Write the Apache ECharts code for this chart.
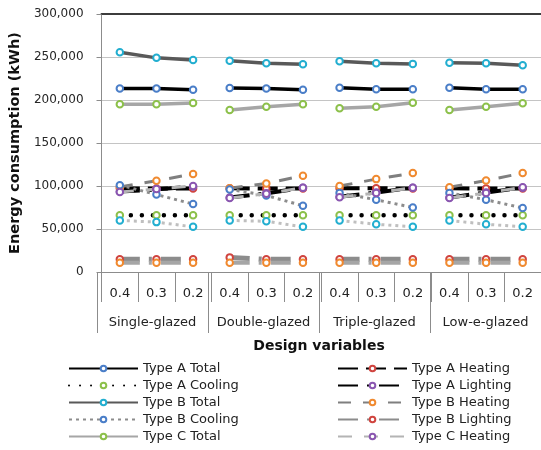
<!DOCTYPE html>
<html><head><meta charset="utf-8">
<script src="https://cdn.jsdelivr.net/npm/echarts@6/dist/echarts.min.js"></script>
<style>html,body{margin:0;padding:0;background:#fff}#c{width:541px;height:450px}</style>
</head><body><div id="c"></div>
<script>
// ---- data ----
const subLabels = ['0.4','0.3','0.2','0.4','0.3','0.2','0.4','0.3','0.2','0.4','0.3','0.2'];
const groupLabels = ['Single-glazed','Double-glazed','Triple-glazed','Low-e-glazed'];
const typeATotal    = [213500,213500,212000,214000,213500,212000,214300,212500,212500,214300,212500,212500];
const typeAHeating  = [97500,97000,97000,97500,97000,97000,97500,97500,97000,97500,97000,97000];
const typeACooling  = [66000,66000,66000,66000,66000,66000,66000,66000,66000,66000,66000,66000];
const typeALighting = [93500,96000,99500,86500,91500,98000,87500,92500,98000,86500,92500,98000];
const typeBTotal    = [255500,249000,246500,245700,242600,241500,245000,242600,242000,243400,242600,240500];
const typeBHeating  = [99000,106000,114000,97500,103000,112000,100000,108000,115000,98500,106500,115000];
const typeBCooling  = [101000,90000,79000,96000,89000,77000,92000,84000,75000,92000,84000,74500];
const typeBLighting = [14700,14700,14700,17000,14700,14700,14700,14700,14700,14700,14700,14700];
const typeCTotal    = [195000,195000,196500,188400,192200,195000,190300,192200,196900,188400,192200,196100];
const typeCHeating  = [93000,96500,100000,86000,91000,98000,87000,92000,98000,86000,92000,98500];
const typeCCooling  = [60000,58000,52500,60000,59000,52500,60000,55500,52500,60000,55500,52500];
const typeCLighting = [10800,10800,10800,10800,10800,10800,10800,10800,10800,10800,10800,10800];

// ---- styles ----
const FONT = 'DejaVu Sans';
const C_BLUE='#4A7EC8', C_RED='#D0443F', C_GREEN='#8CC04A', C_PURPLE='#8A56B0', C_CYAN='#22AED0', C_ORANGE='#F08A30';
const defs = [
  {name:'Type A Total',    data:typeATotal,    color:'#000000', width:3.5, type:'solid',        cap:'butt',  marker:C_BLUE},
  {name:'Type A Heating',  data:typeAHeating,  color:'#000000', width:4,   type:[20,8],         cap:'butt',  marker:C_RED},
  {name:'Type A Cooling',  data:typeACooling,  color:'#000000', width:4.5, type:[0.01,11],      cap:'round', marker:C_GREEN},
  {name:'Type A Lighting', data:typeALighting, color:'#000000', width:4,   type:[20,9,3,9],     cap:'butt',  marker:C_PURPLE},
  {name:'Type B Total',    data:typeBTotal,    color:'#595959', width:3.5, type:'solid',        cap:'butt',  marker:C_CYAN},
  {name:'Type B Heating',  data:typeBHeating,  color:'#7f7f7f', width:3,   type:[13,12],        cap:'butt',  marker:C_ORANGE},
  {name:'Type B Cooling',  data:typeBCooling,  color:'#8c8c8c', width:3,   type:[3,4],          cap:'butt',  marker:C_BLUE},
  {name:'Type B Lighting', data:typeBLighting, color:'#8c8c8c', width:5,   type:[20,9,3,9],     cap:'butt',  marker:C_RED},
  {name:'Type C Total',    data:typeCTotal,    color:'#a6a6a6', width:3.5, type:'solid',        cap:'butt',  marker:C_GREEN},
  {name:'Type C Heating',  data:typeCHeating,  color:'#b4b4b4', width:3,   type:[14,12],        cap:'butt',  marker:C_PURPLE},
  {name:'Type C Cooling',  data:typeCCooling,  color:'#bfbfbf', width:3,   type:[3,4],          cap:'butt',  marker:C_CYAN},
  {name:'Type C Lighting', data:typeCLighting, color:'#a6a6a6', width:4,   type:[20,9,3,9],     cap:'butt',  marker:C_ORANGE}
];

const series = [];
defs.forEach(d => {
  for (let g = 0; g < groupLabels.length; g++) {
    series.push({
      name: d.name, type: 'line', xAxisIndex: 0, yAxisIndex: 0,
      data: d.data.map((v, i) => Math.floor(i / 3) === g ? v : null),
      connectNulls: false,
      symbol: 'emptyCircle', symbolSize: 6.5,
      lineStyle: {color: d.color, width: d.width, type: d.type, cap: d.cap},
      itemStyle: {color: d.marker, borderColor: d.marker, borderWidth: 1.5},
      emphasis: {disabled: true},
      animation: false
    });
  }
});

const legendCommon = {
  orient: 'vertical', top: 362, itemWidth: 69, itemHeight: 7, itemGap: 4, padding: 0,
  textStyle: {fontFamily: FONT, fontSize: 13, color: '#222'}
};

const grid = {left: 97, top: 14, width: 448, height: 258};
const chart = echarts.init(document.getElementById('c'), null, {renderer: 'canvas'});
chart.setOption({
  animation: false,
  backgroundColor: '#fff',
  textStyle: {fontFamily: FONT},
  grid: [Object.assign({}, grid), Object.assign({}, grid)],
  legend: [
    Object.assign({left: 68, data: ['Type A Total','Type A Cooling','Type B Total','Type B Cooling','Type C Total']}, legendCommon),
    Object.assign({left: 337, data: ['Type A Heating','Type A Lighting','Type B Heating','Type B Lighting','Type C Heating']}, legendCommon)
  ],
  xAxis: [
    {type: 'category', gridIndex: 0, position: 'bottom', data: subLabels, boundaryGap: true,
     axisLine: {show: true, lineStyle: {color: '#8c8c8c', width: 1}},
     axisTick: {show: true, interval: 0, length: 30, lineStyle: {color: '#8c8c8c'}},
     axisLabel: {interval: 0, margin: 15, fontFamily: FONT, fontSize: 13, color: '#222'},
     splitLine: {show: false}},
    {type: 'category', gridIndex: 0, position: 'top', data: subLabels,
     axisLine: {show: true, lineStyle: {color: '#3c3c3c', width: 2}},
     axisTick: {show: false}, axisLabel: {show: false}, splitLine: {show: false}},
    {type: 'category', gridIndex: 1, position: 'bottom', data: groupLabels, boundaryGap: true,
     axisLine: {show: false},
     axisTick: {show: true, interval: 0, length: 61, lineStyle: {color: '#8c8c8c'}},
     axisLabel: {interval: 0, margin: 44, fontFamily: FONT, fontSize: 13, color: '#222'},
     name: 'Design variables', nameLocation: 'middle', nameGap: 67,
     nameTextStyle: {fontFamily: FONT, fontSize: 14, fontWeight: 'bold', color: '#111'},
     splitLine: {show: false}}
  ],
  yAxis: [
    {type: 'value', gridIndex: 0, min: 0, max: 300000, interval: 50000,
     axisLine: {show: true, lineStyle: {color: '#8c8c8c'}},
     axisTick: {show: true, length: 5, lineStyle: {color: '#8c8c8c'}},
     axisLabel: {margin: 18, fontFamily: FONT, fontSize: 12, color: '#262626',
                 formatter: v => v.toLocaleString('en-US')},
     splitLine: {show: true, lineStyle: {color: '#c4c4c4', width: 1}},
     name: 'Energy consumption (kWh)', nameLocation: 'middle', nameRotate: 90, nameGap: 71,
     nameTextStyle: {fontFamily: FONT, fontSize: 14.5, fontWeight: 'bold', color: '#111'}},
    {type: 'value', gridIndex: 1, show: false, min: 0, max: 300000}
  ],
  series: series
});
</script></body></html>
